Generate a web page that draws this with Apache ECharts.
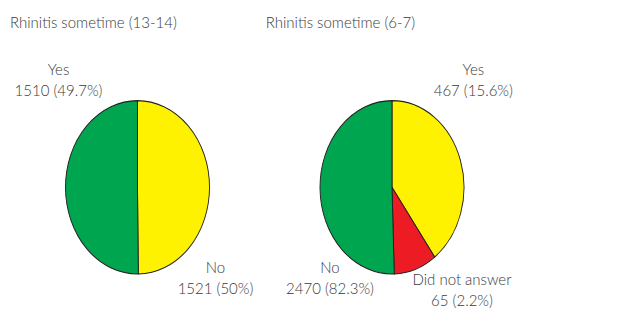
<!DOCTYPE html>
<html>
<head>
<meta charset="utf-8">
<script src="https://cdn.jsdelivr.net/npm/echarts@6/dist/echarts.min.js"></script>
<style>
html,body{margin:0;padding:0;background:#fff;}
#wrap{position:relative;width:629px;height:309px;overflow:hidden;}
#pies,#txt{position:absolute;left:0;top:0;width:629px;height:309px;}
#pies{transform:scaleY(1.204);transform-origin:50% 187.3px;}
</style>
</head>
<body>
<div id="wrap"><div id="pies"></div><div id="txt"></div></div>
<script>
// Titles
const titles = ['Rhinitis sometime (13-14)', 'Rhinitis sometime (6-7)'];
// Left pie (13-14): slice categories and values (Yes, No)
const cats13 = ['Yes', 'No'];
const vals13 = [1510, 1521];
const labels13 = ['Yes\n1510 (49.7%)', 'No\n1521 (50%)'];
// Right pie (6-7): slice shares as drawn in the picture (Yes, Did not answer, No)
const cats67 = ['Yes', 'Did not answer', 'No'];
const vals67 = [39.9, 9.6, 50.5];
const labels67 = ['Yes\n467 (15.6%)', 'Did not answer\n65 (2.2%)', 'No\n2470 (82.3%)'];
// Colours
const colYes = '#fff200', colNo = '#00a550', colNA = '#ed1c24';

const pieChart = echarts.init(document.getElementById('pies'), null, {renderer: 'svg'});
const common = {
  type: 'pie', radius: 72, startAngle: 90, clockwise: true,
  label: {show: false}, labelLine: {show: false}, silent: true, animation: false,
  itemStyle: {borderColor: '#231f20', borderWidth: 0.9}
};
pieChart.setOption({
  animation: false,
  series: [
    Object.assign({}, common, {
      center: [137.5, 187.3],
      data: cats13.map((c, i) => ({name: c, value: vals13[i], itemStyle: {color: i === 0 ? colYes : colNo}}))
    }),
    Object.assign({}, common, {
      center: [392, 187.3],
      data: cats67.map((c, i) => ({name: c, value: vals67[i], itemStyle: {color: [colYes, colNA, colNo][i]}}))
    })
  ]
});

const txtChart = echarts.init(document.getElementById('txt'), null, {renderer: 'svg'});
const font = {fontFamily: 'Lato', fontWeight: 300, fontSize: 15, fill: '#3a3a3a', lineHeight: 20.5};
function t(x, y, text, align) {
  return {type: 'text', x: x, y: y, style: Object.assign({text: text, textAlign: align || 'center', textVerticalAlign: 'middle'}, font)};
}
txtChart.setOption({
  graphic: [
    t(10, 21.7, titles[0], 'left'),
    t(265.7, 21.7, titles[1], 'left'),
    t(58.5, 79.7, labels13[0]),
    t(215.5, 277.7, labels13[1]),
    t(473.3, 79.7, labels67[0]),
    t(462, 289.7, labels67[1]),
    t(330, 277.7, labels67[2])
  ]
});
</script>
</body>
</html>
